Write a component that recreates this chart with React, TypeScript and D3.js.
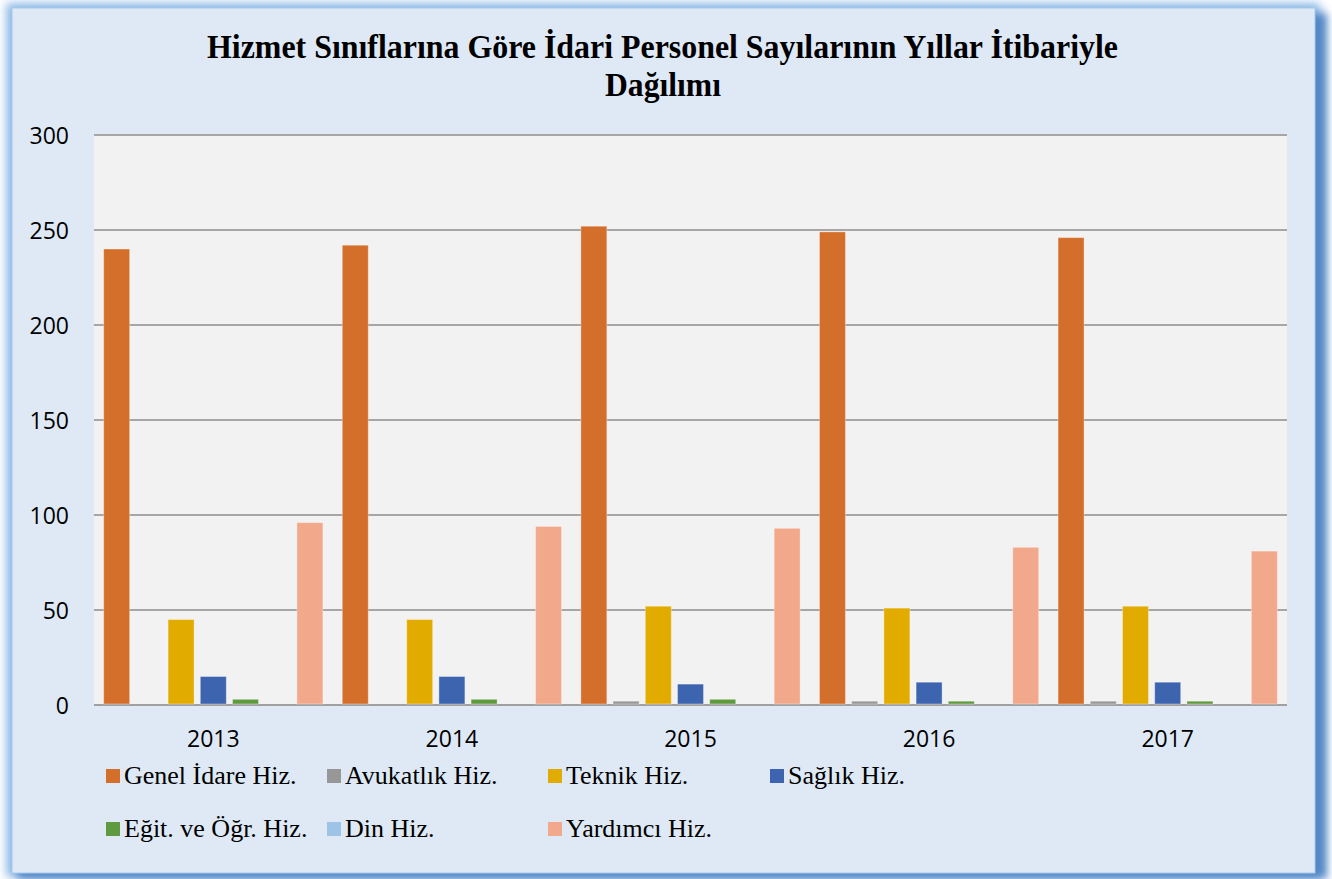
import React from "react";
import * as d3 from "d3";

const years = ["2013", "2014", "2015", "2016", "2017"];
const seriesNames = [
  "Genel İdare Hiz.",
  "Avukatlık Hiz.",
  "Teknik Hiz.",
  "Sağlık Hiz.",
  "Eğit. ve Öğr. Hiz.",
  "Din Hiz.",
  "Yardımcı Hiz.",
];
const genelIdare = [240, 242, 252, 249, 246];
const avukatlik = [0, 0, 2, 2, 2];
const teknik = [45, 45, 52, 51, 52];
const saglik = [15, 15, 11, 12, 12];
const egitim = [3, 3, 3, 2, 2];
const din = [0, 0, 0, 0, 0];
const yardimci = [96, 94, 93, 83, 81];
const seriesValues = [genelIdare, avukatlik, teknik, saglik, egitim, din, yardimci];
const colors = ["#D46E2B", "#979797", "#E2AB00", "#3D65AF", "#5F9A3E", "#9DC3E6", "#F2A88B"];
const yTicks = [0, 50, 100, 150, 200, 250, 300];
const titleLines = [
  "Hizmet Sınıflarına Göre İdari Personel Sayılarının Yıllar İtibariyle",
  "Dağılımı",
];

const W = 1332;
const H = 879;
const plot = { left: 94, right: 1287, top: 135, bottom: 705 };

export default function App() {
  const x0 = d3.scaleBand<string>().domain(years).range([plot.left, plot.right]).paddingInner(0).paddingOuter(0);
  const x1 = d3
    .scaleBand<string>()
    .domain(seriesNames)
    .range([0, x0.bandwidth()])
    .paddingInner(0.193)
    .paddingOuter(0.3);
  const y = d3.scaleLinear().domain([0, 300]).range([plot.bottom, plot.top]);

  const legendCols = [106, 327, 548, 770];
  const legendRows = [784, 837];

  return (
    <svg
      width={W}
      height={H}
      style={{ position: "absolute", left: 0, top: 0, background: "#ffffff" }}
    >
      <defs>
        <filter id="glow" x="-5%" y="-5%" width="110%" height="110%">
          <feGaussianBlur stdDeviation="5" />
        </filter>
        <filter id="shadow" x="-5%" y="-5%" width="110%" height="110%">
          <feGaussianBlur stdDeviation="4" />
        </filter>
      </defs>
      {/* frame glow & shadow */}
      <rect x={6} y={3} width={1314} height={874} fill="#8fbbe8" filter="url(#glow)" />
      <rect x={17} y={13} width={1310} height={866} fill="#5287c6" filter="url(#shadow)" />
      <rect x={12} y={8} width={1303} height={865} fill="#DEE9F5" stroke="#a9c9ec" strokeWidth={1} />

      {/* title */}
      <text
        x={662.5}
        y={58}
        textAnchor="middle"
        fontFamily="'Liberation Serif', 'Times New Roman', serif"
        fontWeight="bold"
        fontSize={33}
        textLength={911}
        lengthAdjust="spacingAndGlyphs"
        fill="#000"
      >
        {titleLines[0]}
      </text>
      <text
        x={663}
        y={96}
        textAnchor="middle"
        fontFamily="'Liberation Serif', 'Times New Roman', serif"
        fontWeight="bold"
        fontSize={33}
        textLength={116}
        lengthAdjust="spacingAndGlyphs"
        fill="#000"
      >
        {titleLines[1]}
      </text>

      {/* plot area */}
      <rect x={plot.left} y={plot.top} width={plot.right - plot.left} height={plot.bottom - plot.top} fill="#F2F2F2" />

      {/* gridlines */}
      {yTicks.map((t) => (
        <line
          key={"g" + t}
          x1={plot.left}
          x2={plot.right}
          y1={y(t)}
          y2={y(t)}
          stroke={t === 0 ? "#a0a0a0" : "#a6a6a6"}
          strokeWidth={2}
        />
      ))}

      {/* y labels */}
      {yTicks.map((t) => (
        <text
          key={"yl" + t}
          x={69}
          y={y(t) + 8.5}
          textAnchor="end"
          fontFamily="'Open Sans', sans-serif"
          fontSize={23}
          fill="#000"
        >
          {t}
        </text>
      ))}

      {/* bars */}
      {years.map((yr, i) => (
        <g key={yr} transform={`translate(${x0(yr)},0)`}>
          {seriesNames.map((s, j) => {
            const v = seriesValues[j][i];
            if (v <= 0) return null;
            return (
              <rect
                key={s}
                x={x1(s)}
                y={y(v)}
                width={x1.bandwidth()}
                height={y(0) - y(v) - 1}
                fill={colors[j]}
                stroke="#ffffff"
                strokeOpacity={0.35}
                strokeWidth={1}
              />
            );
          })}
        </g>
      ))}

      {/* x labels */}
      {years.map((yr) => (
        <text
          key={"xl" + yr}
          x={(x0(yr) as number) + x0.bandwidth() / 2}
          y={747}
          textAnchor="middle"
          fontFamily="'Open Sans', sans-serif"
          fontSize={23}
          fill="#000"
        >
          {yr}
        </text>
      ))}

      {/* legend */}
      {seriesNames.map((s, j) => {
        const row = j < 4 ? 0 : 1;
        const col = j < 4 ? j : j - 4;
        const lx = legendCols[col];
        const ly = legendRows[row];
        return (
          <g key={"lg" + s}>
            <rect x={lx} y={ly - 15} width={14} height={14} fill={colors[j]} />
            <text
              x={lx + 18}
              y={ly}
              fontFamily="'Liberation Serif', 'Times New Roman', serif"
              fontSize={26}
              fill="#000"
            >
              {s}
            </text>
          </g>
        );
      })}
    </svg>
  );
}
